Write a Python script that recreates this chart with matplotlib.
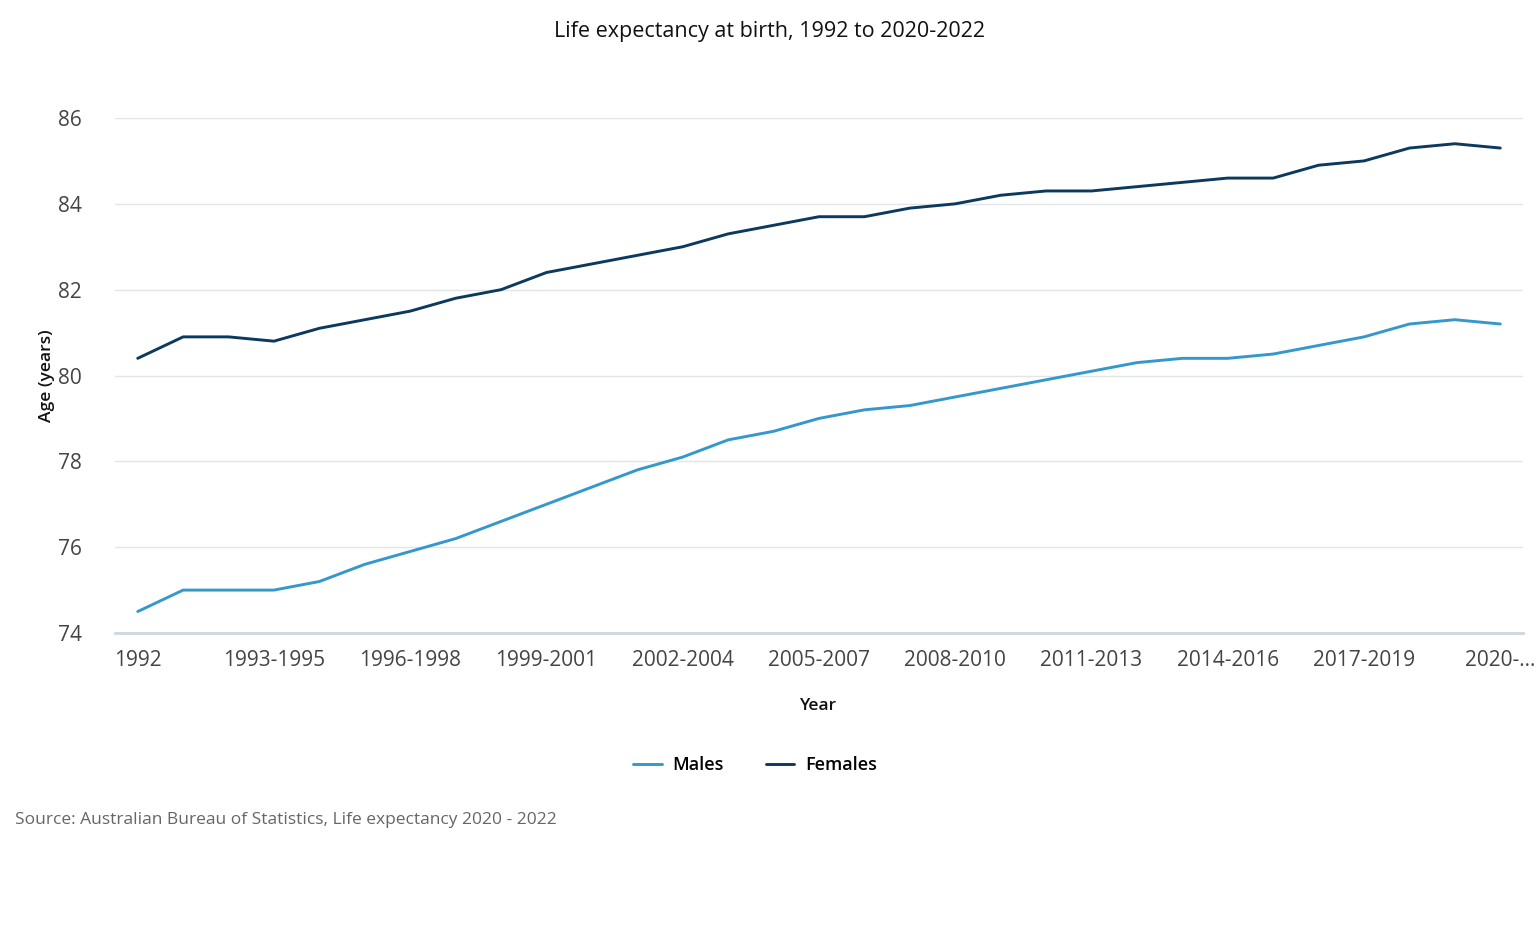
import matplotlib.pyplot as plt

plt.rcParams['font.family'] = ['Open Sans', 'DejaVu Sans']

# periods (3-year averages, first point is 1992)
periods = ['1992', '1991-1993', '1992-1994', '1993-1995', '1994-1996', '1995-1997',
           '1996-1998', '1997-1999', '1998-2000', '1999-2001', '2000-2002', '2001-2003',
           '2002-2004', '2003-2005', '2004-2006', '2005-2007', '2006-2008', '2007-2009',
           '2008-2010', '2009-2011', '2010-2012', '2011-2013', '2012-2014', '2013-2015',
           '2014-2016', '2015-2017', '2016-2018', '2017-2019', '2018-2020', '2019-2021',
           '2020-2022']

males = [74.5, 75.0, 75.0, 75.0, 75.2, 75.6, 75.9, 76.2, 76.6, 77.0, 77.4, 77.8,
         78.1, 78.5, 78.7, 79.0, 79.2, 79.3, 79.5, 79.7, 79.9, 80.1, 80.3, 80.4,
         80.4, 80.5, 80.7, 80.9, 81.2, 81.3, 81.2]
females = [80.4, 80.9, 80.9, 80.8, 81.1, 81.3, 81.5, 81.8, 82.0, 82.4, 82.6, 82.8,
           83.0, 83.3, 83.5, 83.7, 83.7, 83.9, 84.0, 84.2, 84.3, 84.3, 84.4, 84.5,
           84.6, 84.6, 84.9, 85.0, 85.3, 85.4, 85.3]

yticks = [74, 76, 78, 80, 82, 84, 86]

x = list(range(len(periods)))
tick_pos = x[::3]
tick_labels = [periods[i] for i in tick_pos]
tick_labels[-1] = '2020-...'

fig = plt.figure(figsize=(15.4, 9.5), dpi=100)
ax = fig.add_axes([115 / 1540, 1 - 633 / 950, (1523 - 115) / 1540, (633 - 118) / 950])

ax.plot(x, males, color='#3598cd', linewidth=2.1, label='Males', solid_capstyle='round')
ax.plot(x, females, color='#0b3a5e', linewidth=2.1, label='Females', solid_capstyle='round')

ax.set_xlim(-0.5, len(periods) - 0.5)
ax.set_ylim(74, 86)
ax.set_yticks(yticks)
ax.set_xticks(tick_pos)
ax.set_xticklabels(tick_labels)
ax.grid(axis='y', color='#e1e4e8', linewidth=1)
ax.set_axisbelow(True)
for s in ['top', 'right', 'left']:
    ax.spines[s].set_visible(False)
ax.spines['bottom'].set_color('#ccd6e0')
ax.spines['bottom'].set_linewidth(2)
ax.tick_params(axis='both', length=0, labelsize=15, colors='#444444')
ax.tick_params(axis='x', pad=12)
ax.tick_params(axis='y', pad=24)

ax.set_xlabel('Year', fontsize=12.5, color='#111111', fontweight='semibold', labelpad=20)
ax.set_ylabel('Age (years)', fontsize=12.5, color='#111111', fontweight='semibold', labelpad=2)

fig.text(770 / 1540, 1 - 31 / 950, 'Life expectancy at birth, 1992 to 2020-2022',
         ha='center', va='center', fontsize=15.5, color='#111111', fontweight='medium')

fig.legend(loc='center', bbox_to_anchor=(755 / 1540, 1 - 765 / 950), ncol=2,
           frameon=False, prop={'size': 13, 'weight': 'semibold'}, handlelength=1.6,
           columnspacing=2.3, handletextpad=0.6)

fig.text(15 / 1540, 1 - 820 / 950, 'Source: Australian Bureau of Statistics, Life expectancy 2020 - 2022',
         ha='left', va='center', fontsize=12.5, color='#666666')

fig.savefig('out.png', dpi=100, facecolor='white')
